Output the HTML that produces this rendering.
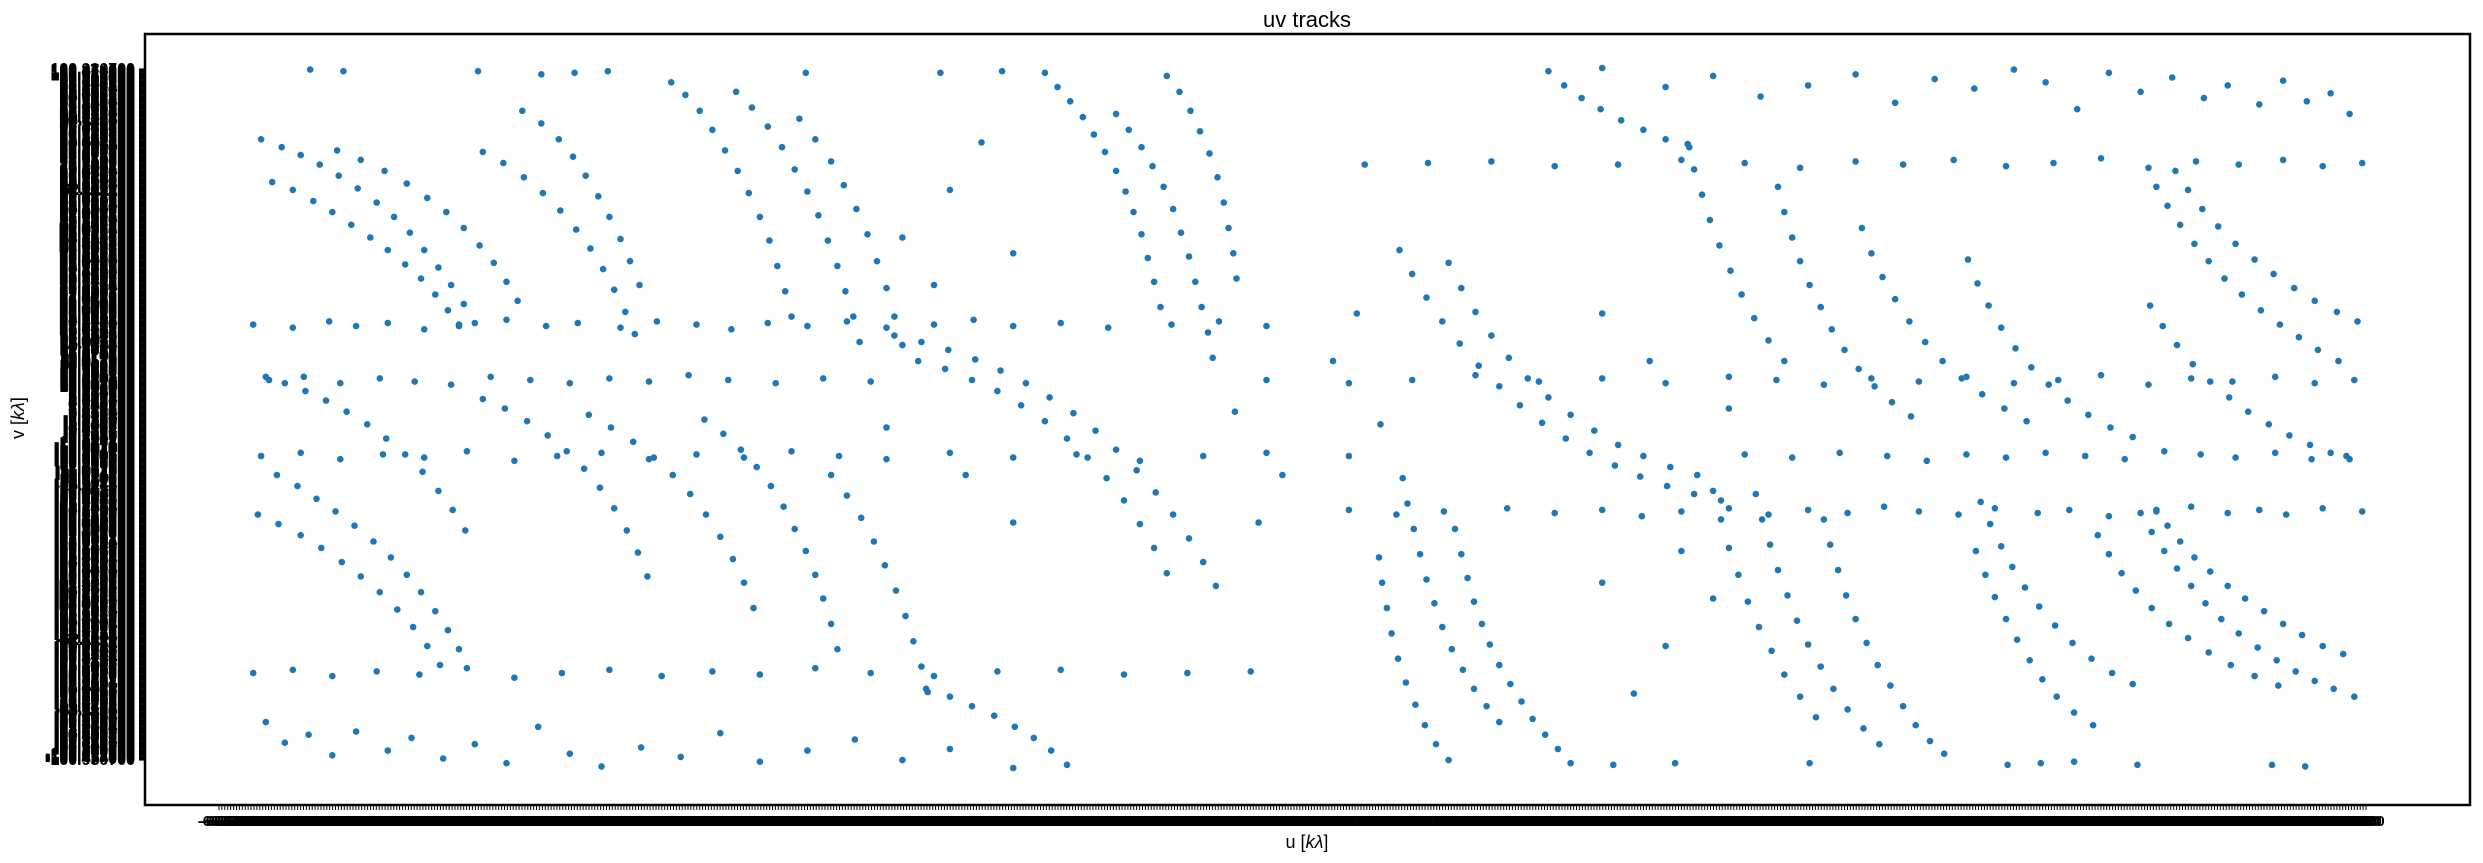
<!DOCTYPE html>
<html><head><meta charset="utf-8"><style>
html,body{margin:0;padding:0;background:#fff;}
svg{display:block;font-family:"Liberation Sans","DejaVu Sans",sans-serif;}
</style></head><body>
<svg id="chart" width="2483" height="863" viewBox="0 0 2483 863" xmlns="http://www.w3.org/2000/svg">
<rect width="2483" height="863" fill="#fff"/>
<text x="1307" y="27" font-size="22" text-anchor="middle" fill="#000">uv tracks</text>
<g id="ytl"></g>
<g id="ytk"></g>
<g id="xtl"></g>
<g id="xtk"></g>
<g id="pts"></g>
<rect x="145" y="34" width="2325" height="771" fill="none" stroke="#000" stroke-width="2.5"/>
<text x="1307" y="848" font-size="18" text-anchor="middle" fill="#000">u [<tspan font-style="italic">kλ</tspan>]</text>
<text x="24" y="418" font-size="18" text-anchor="middle" fill="#000" transform="rotate(-90 24 418)">v [<tspan font-style="italic">kλ</tspan>]</text>
</svg>
<script>
// uv samples (kλ), half-plane; conjugate points (-u,-v) are added for each sample
const uTracksA=[-661,-648,-636,-624,-612,-600,-588,-577,-567,-558,-549,-541,-533,-526,
-654,-641,-628,-616,-604,-592,-581,-570,-560,-551,-543,-536,
-613,-598,-583,-569,-556,-544,-533,-523,-514,-506,-499,
-521,-508,-495,-483,-472,-462,-453,-445,-438,-431,-425,
-496,-484,-473,-464,-456,-448,-441,-434,-428,-422,
-402,-393,-384,-376,-368,-360,-353,-346,-340,-335,-330,-326,
-361,-351,-341,-332,-324,-316,-309,-303,-297,-292,-287,-283,
-321,-311,-301,-293,-285,-278,-272,-266,-261,-256,
-166,-158,-150,-142,-135,-128,-121,-115,-110,-105,-101,-97,-93,
-121,-113,-105,-98,-91,-85,-80,-75,-71,-67,-63,-60,
-89,-81,-74,-68,-62,-57,-53,-50,-47,-45];
const vTracksA=[176,171,166,160,153,145,136,127,117,106,95,84,72,60,
149,144,137,130,122,114,106,97,88,78,68,58,
169,163,156,148,139,130,120,109,98,86,74,
168,161,152,142,131,119,107,94,81,67,53,
194,186,176,165,153,140,127,113,99,84,
212,204,194,182,169,156,142,127,112,96,80,64,
206,196,184,171,157,143,128,112,96,80,64,48,
189,176,162,147,132,116,99,82,64,46,
218,209,200,190,179,168,156,143,130,116,101,86,70,
192,182,171,159,146,132,117,102,86,70,54,38,
216,206,194,181,167,152,136,120,104,88];
const uTracksB=[-261,-244,-227,-210,-194,-178,-163,-148,-134,-121,-108,-96,-85,-75,-66,-58,
-246,-229,-212,-196,-181,-166,-152,-139,-127,-116,-106,-97,-89,
-658,-646,-633,-620,-607,-594,-582,-570,-559,-549,-540,-532,
-651,-638,-626,-614,-602,-590,-579,-569,-560,-551,-543,-536,
-663,-650,-636,-623,-610,-598,-586,-575,-565,-556,-548,
-521,-507,-493,-480,-468,-457,-447,-438,-430,-423,-417,
-454,-440,-426,-413,-401,-390,-380,-371,-363,-356,-350,
-381,-369,-358,-348,-339,-331,-324,-317,-311,-306,-301,-297,
-301,-291,-282,-274,-267,-260,-254,-249,-244,-240,
-241,-226,-212,-198,-185,-173,-162,-152];
const vTracksB=[52,48,43,37,30,22,13,3,-8,-20,-33,-47,-61,-76,-91,-106,
36,31,24,17,8,-2,-13,-25,-38,-52,-67,-82,-98,
26,22,17,11,4,-4,-13,-23,-34,-46,-58,-71,
-36,-43,-51,-59,-68,-78,-88,-99,-110,-122,-134,-146,
-61,-67,-74,-82,-91,-100,-110,-121,-132,-144,-156,
12,6,-2,-11,-21,-32,-44,-57,-71,-85,-100,
2,-6,-15,-25,-36,-48,-61,-75,-89,-104,-120,
-1,-10,-20,-31,-43,-56,-70,-84,-99,-114,-130,-146,
-36,-49,-63,-78,-93,-109,-125,-141,-157,-173,
-171,-176,-182,-188,-195,-202,-210,-219];
const uRows=[-666,-641,-618,-601,-581,-558,-536,-506,-481,-461,-434,-411,-386,-364,-341,-316,-291,-266,-236,-211,-186,-156,-126,-86,-56,-26,
-656,-634,-611,-586,-564,-541,-516,-491,-466,-441,-416,-391,-366,-336,-306,-276,
-661,-636,-611,-584,-558,-531,-501,-474,-446,-416,-386,-356,-326,-296,-266,-226,-186,-146,-106,-66,-26,
-666,-641,-616,-588,-561,-531,-501,-471,-441,-408,-376,-346,-311,-276,-236,-196,-156,-116,-76,-36,
-658,-646,-631,-616,-601,-581,-566,-546,-526,-506,-486,-466,-446,-421,-396,-371,-346,-316,-286,-256,-226,-186,
-630,-609,-524,-484,-463,-442,-317,-232,-193,
-256,-226,-206,-186,-236,-46,-26,-16,-31,-266,-216,-186];
const vRows=[59,57,61,58,60,56,59,62,58,60,57,61,59,56,60,58,61,57,59,62,58,60,57,59,61,58,
24,26,22,25,23,21,26,24,22,25,23,27,24,22,25,23,
-24,-22,-26,-23,-25,-21,-27,-24,-22,-26,-23,-25,-21,-24,-26,-22,-25,-23,-27,-24,-22,
-161,-159,-163,-160,-162,-158,-164,-161,-159,-163,-160,-162,-158,-161,-163,-160,-159,-162,-161,-160,
-192,-205,-200,-213,-198,-210,-202,-215,-206,-218,-195,-212,-220,-208,-214,-199,-217,-210,-203,-216,-209,-221,
220,219,219,217,218,219,218,218,219,
114,144,174,104,84,4,24,-36,-66,-6,-36,-66];

const NS="http://www.w3.org/2000/svg";
const U0=-668,U1=669,V0=-221,V1=221;
function xs(u){return 250+(u-U0)/(U1-U0)*2117;}
function ys(v){return 68+(V1-v)/(V1-V0)*700;}

const us=[],vs=[];
[[uTracksA,vTracksA],[uTracksB,vTracksB],[uRows,vRows]].forEach(function(p){
  for(let i=0;i<p[0].length;i++){us.push(p[0][i]);vs.push(p[1][i]);us.push(-p[0][i]);vs.push(-p[1][i]);}
});

const gp=document.getElementById('pts');
for(let i=0;i<us.length;i++){
  const c=document.createElementNS(NS,'circle');
  c.setAttribute('cx',xs(us[i]).toFixed(1));
  c.setAttribute('cy',ys(vs[i]).toFixed(1));
  c.setAttribute('r','3.3');
  c.setAttribute('fill','#1f77b4');
  
  
  gp.appendChild(c);
}

// categorical tick labels (one per value, as in the reference)
const uSorted=us.slice().sort(function(a,b){return a-b;});
const vSorted=vs.slice().sort(function(a,b){return a-b;});
const gxl=document.getElementById('xtl'),gxt=document.getElementById('xtk');
const nx=uSorted.length;
for(let i=0;i<nx;i++){
  const x=219+i*(2366-219)/(nx-1);
  const t=document.createElementNS(NS,'line');
  t.setAttribute('x1',x.toFixed(1));t.setAttribute('x2',x.toFixed(1));
  t.setAttribute('y1','805');t.setAttribute('y2','810');
  t.setAttribute('stroke','#000');t.setAttribute('stroke-width','1');
  
  
  gxt.appendChild(t);
  const l=document.createElementNS(NS,'text');
  l.setAttribute('x',x.toFixed(1));l.setAttribute('y','826');
  l.setAttribute('font-size','15');l.setAttribute('font-weight','bold');l.setAttribute('text-anchor','middle');
  l.textContent=(uSorted[i]/10).toFixed(2);
  
  
  gxl.appendChild(l);
}
const gyl=document.getElementById('ytl'),gyt=document.getElementById('ytk');
const ny=vSorted.length;
for(let i=0;i<ny;i++){
  const y=760-i*(760-69)/(ny-1);
  const t=document.createElementNS(NS,'line');
  t.setAttribute('x1','139');t.setAttribute('x2','145');
  t.setAttribute('y1',y.toFixed(1));t.setAttribute('y2',y.toFixed(1));
  t.setAttribute('stroke','#000');t.setAttribute('stroke-width','1.2');
  
  
  gyt.appendChild(t);
  const l=document.createElementNS(NS,'text');
  l.setAttribute('x','135');l.setAttribute('y',(y+5).toFixed(1));
  l.setAttribute('font-size','16');l.setAttribute('font-weight','bold');l.setAttribute('text-anchor','end');
  l.textContent=(vSorted[i]*0.4567).toFixed(6);
  
  
  gyl.appendChild(l);
}
</script>
</body></html>
